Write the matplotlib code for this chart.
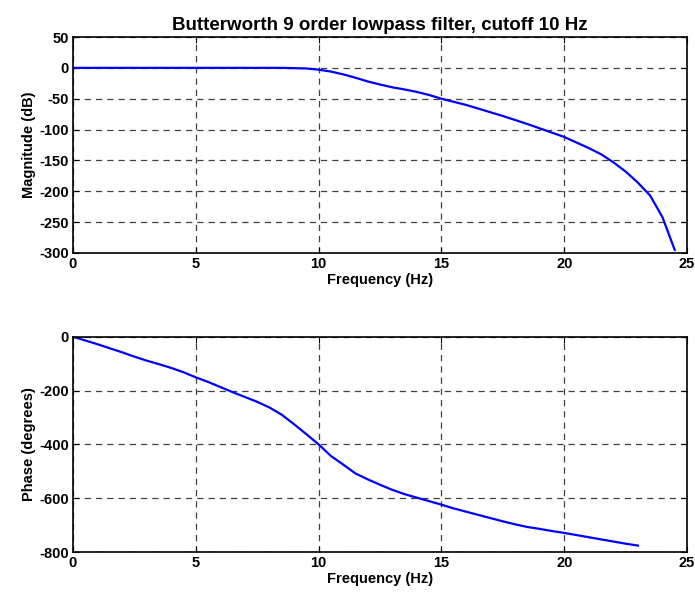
import matplotlib
matplotlib.use('Agg')
import matplotlib.pyplot as plt

plt.rcParams['font.family'] = ['Liberation Sans', 'DejaVu Sans']
plt.rcParams['font.weight'] = 'bold'
plt.rcParams['axes.unicode_minus'] = False

# frequency grid (Hz)
freq_mag = [0, 0.5, 1, 1.5, 2, 2.5, 3, 3.5, 4, 4.5, 5, 5.5, 6, 6.5, 7, 7.5, 8, 8.5,
            9, 9.5, 10, 10.5, 11, 11.5, 12, 12.5, 13, 13.5, 14, 14.5, 15, 15.5, 16,
            16.5, 17, 17.5, 18, 18.5, 19, 19.5, 20, 20.5, 21, 21.5, 22, 22.5, 23,
            23.5, 24, 24.5]
magnitude_db = [0, 0, 0, 0, 0, 0, 0, 0, 0, 0, 0, 0, 0, 0, 0, 0, 0, 0,
                -0.5, -1, -3, -6, -10.5, -16, -22, -27, -31.5, -35, -39, -44, -50,
                -55, -60, -66, -72, -78, -84.5, -91, -98, -105, -112, -121, -130,
                -140, -153, -168, -186, -207, -242, -295]

freq_phase = [0, 0.5, 1, 1.5, 2, 2.5, 3, 3.5, 4, 4.5, 5, 5.5, 6, 6.5, 7, 7.5, 8,
              8.5, 9, 9.5, 10, 10.5, 11, 11.5, 12, 12.5, 13, 13.5, 14, 14.5, 15,
              15.5, 16, 16.5, 17, 17.5, 18, 18.5, 19, 19.5, 20, 20.5, 21, 21.5, 22,
              22.5, 23]
phase_deg = [0, -14, -28, -43, -58, -74, -89, -102, -116, -132, -151, -168, -187,
             -206, -224, -242, -263, -290, -325, -362, -400, -443, -475, -508, -530,
             -550, -569, -585, -598, -611, -624, -638, -650, -662, -674, -686, -697,
             -707, -714, -722, -729, -737, -745, -753, -761, -769, -776]

x_ticks = [0, 5, 10, 15, 20, 25]
mag_ticks = [50, 0, -50, -100, -150, -200, -250, -300]
phase_ticks = [0, -200, -400, -600, -800]

fig = plt.figure(figsize=(6.95, 5.93), dpi=100)
ax1 = fig.add_axes([0.105, 0.5734, 0.8835, 0.3642])
ax2 = fig.add_axes([0.105, 0.0691, 0.8835, 0.3631])


def style(ax):
    ax.grid(True, color='#404040', linestyle=(0, (5, 4)), linewidth=0.9)
    ax.tick_params(direction='in', top=True, right=True, length=4,
                   labelsize=10.5, pad=3)
    for s in ax.spines.values():
        s.set_linewidth(1.2)
    ax.set_xlim(0, 25)
    ax.set_xticks(x_ticks)
    ax.set_xlabel('Frequency (Hz)', fontsize=10.5, fontweight='bold', labelpad=1)


ax1.plot(freq_mag, magnitude_db, color='#0000ff', linewidth=1.6)
style(ax1)
ax1.set_ylim(-300, 50)
ax1.set_yticks(mag_ticks)
ax1.set_ylabel('Magnitude (dB)', fontsize=10.5, fontweight='bold', labelpad=2)
ax1.set_title('Butterworth 9 order lowpass filter, cutoff 10 Hz',
              fontsize=13.5, fontweight='bold', pad=5)

ax2.plot(freq_phase, phase_deg, color='#0000ff', linewidth=1.6)
style(ax2)
ax2.set_ylim(-800, 0)
ax2.set_yticks(phase_ticks)
ax2.set_ylabel('Phase (degrees)', fontsize=10.5, fontweight='bold', labelpad=2)

fig.savefig('out.png', dpi=100)
